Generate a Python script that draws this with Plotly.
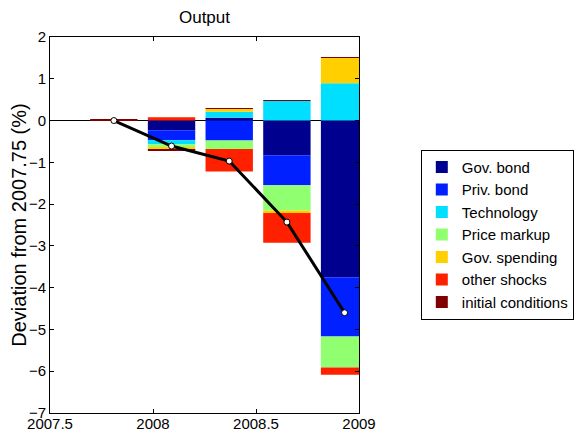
import plotly.graph_objects as go

# ── Data ────────────────────────────────────────────────────
periods = [2007.81, 2008.09, 2008.37, 2008.65, 2008.93]

gov_bond = [0.0, -0.23, 0.07, -0.83, -3.75]
priv_bond = [0.0, -0.24, -0.48, -0.72, -1.42]
technology = [0.0, -0.10, 0.14, 0.47, 0.89]
price_markup = [0.0, -0.065, -0.20, -0.60, -0.74]
gov_spending = [0.0, -0.05, 0.07, -0.065, 0.61]
other_shocks = [0.0, 0.08, -0.54, -0.71, -0.175]
initial_conditions = [0.015, -0.025, 0.02, 0.015, 0.015]

output_total = [0.0, -0.61, -0.97, -2.43, -4.60]

series = [
    ("Gov. bond", gov_bond, "#00008F"),
    ("Priv. bond", priv_bond, "#0020FF"),
    ("Technology", technology, "#00DFFF"),
    ("Price markup", price_markup, "#90FF70"),
    ("Gov. spending", gov_spending, "#FFCF00"),
    ("other shocks", other_shocks, "#FF2000"),
    ("initial conditions", initial_conditions, "#800000"),
]

FONT = "Liberation Sans, Arial, Helvetica, sans-serif"

# page body has an 8px margin, so the figure is sized/offset for it
W, H = 576, 425

fig = go.Figure()

# ── Stacked contributions ───────────────────────────────────
for name, vals, color in series:
    fig.add_trace(go.Bar(
        x=periods, y=vals, name=name,
        marker=dict(color=color, line=dict(width=0)),
        width=0.23,
    ))

# ── Total output line ───────────────────────────────────────
fig.add_trace(go.Scatter(
    x=periods, y=output_total, mode="lines+markers",
    line=dict(color="black", width=3),
    marker=dict(color="white", size=6, line=dict(color="black", width=1)),
    showlegend=False,
))

# ── Layout ──────────────────────────────────────────────────
fig.update_layout(
    width=W, height=H,
    barmode="relative",
    plot_bgcolor="white", paper_bgcolor="white",
    font=dict(family=FONT, color="black", size=15),
    margin=dict(l=42, r=225, t=29, b=20, autoexpand=False),
    title=dict(text="Output", x=(42 + 309 / 2) / W, xanchor="center",
               y=1 - 3 / H, yanchor="top", font=dict(size=17)),
    legend=dict(
        x=1.2, y=0.70, xanchor="left", yanchor="top",
        bordercolor="black", borderwidth=1, bgcolor="white",
        font=dict(size=15), tracegroupgap=0, itemwidth=30,
        traceorder="normal",
    ),
)
fig.update_xaxes(
    range=[2007.5, 2009], tickvals=[2007.5, 2008, 2008.5, 2009],
    ticktext=["2007.5", "2008", "2008.5", "2009"],
    showline=True, linecolor="black", linewidth=1, mirror="ticks",
    ticks="inside", ticklen=4, tickcolor="black", ticklabelstandoff=-3,
    showgrid=False, zeroline=False, automargin=False,
)
fig.update_yaxes(
    range=[-7, 2], tickvals=list(range(-7, 3)),
    showline=True, linecolor="black", linewidth=1, mirror="ticks",
    ticks="inside", ticklen=4, tickcolor="black",
    showgrid=False, zeroline=True, zerolinecolor="black", zerolinewidth=1,
    automargin=False,
    title=dict(text="Deviation from 2007.75 (%)", font=dict(size=20), standoff=4),
)

fig.write_html("out.html")
